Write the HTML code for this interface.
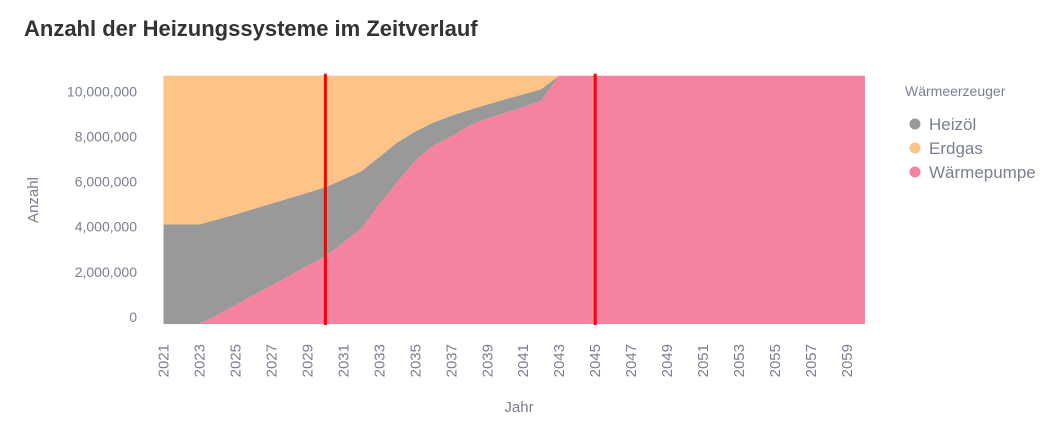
<!DOCTYPE html>
<html><head><meta charset="utf-8"><style>
body{margin:0;background:#fff;width:1064px;height:425px;overflow:hidden;font-family:"Liberation Sans",sans-serif}
</style></head><body>
<svg width="1064" height="425" xmlns="http://www.w3.org/2000/svg">
<text x="24" y="36" font-size="22" font-weight="bold" fill="#333">Anzahl der Heizungssysteme im Zeitverlauf</text>
<g id="grid"></g><g id="areas"></g><g id="axes"></g>
<text x="519" y="412" font-size="15" fill="#7a7f8f" text-anchor="middle">Jahr</text>
<text transform="translate(38,200) rotate(-90)" font-size="15" fill="#7a7f8f" text-anchor="middle">Anzahl</text>
<g>
<text x="905" y="96" font-size="14" fill="#7a7f8f">Wärmeerzeuger</text>
<circle cx="915" cy="124" r="5.5" fill="#999"/>
<text x="929" y="130" font-size="17" fill="#7a7f8f">Heizöl</text>
<circle cx="915" cy="148" r="5.5" fill="#fec487"/>
<text x="929" y="154" font-size="17" fill="#7a7f8f">Erdgas</text>
<circle cx="915" cy="172" r="5.5" fill="#f5839f"/>
<text x="929" y="178" font-size="17" fill="#7a7f8f">Wärmepumpe</text>
</g>
</svg>
<script>
const years=[2021,2022,2023,2024,2025,2026,2027,2028,2029,2030,2031,2032,2033,2034,2035,2036,2037,2038,2039,2040,2041,2042,2043,2060];
const pumpe=[0,0,0,0.4,0.84,1.27,1.7,2.13,2.57,3.0,3.6,4.22,5.3,6.28,7.23,7.9,8.3,8.78,9.1,9.35,9.6,9.88,11,11];
const oelTop=[4.41,4.41,4.41,4.63,4.85,5.09,5.33,5.57,5.81,6.06,6.4,6.76,7.4,8.04,8.53,8.92,9.22,9.48,9.72,9.95,10.17,10.4,11,11];
const total=[11,11,11,11,11,11,11,11,11,11,11,11,11,11,11,11,11,11,11,11,11,11,11,11];
const yTicks=[0,2,4,6,8,10];
const yTickLabels=["0","2,000,000","4,000,000","6,000,000","8,000,000","10,000,000"];
const redYears=[2030,2045];
const NS="http://www.w3.org/2000/svg";
const X0=163.5,X1=865,Y0=324,YT=75.7,yMax=11;
const x=v=>X0+(v-2021)/(2060-2021)*(X1-X0);
const y=v=>Y0-v/yMax*(Y0-YT);
function mk(t,a,p){const e=document.createElementNS(NS,t);for(const k in a)e.setAttribute(k,a[k]);p.appendChild(e);return e;}
const grid=document.getElementById('grid'),areas=document.getElementById('areas'),axes=document.getElementById('axes');
yTicks.forEach((v,i)=>{
 const l=mk('line',{x1:X0,x2:X1,y1:y(v),y2:y(v),stroke:'#eceef3'},grid);
 
 
 const t=mk('text',{x:137,y:y(v)-2,'font-size':14,fill:'#7a7f8f','text-anchor':'end'},axes);
 t.textContent=yTickLabels[i];
 
 
});
function band(lo,hi,fill,name){
 let d='M'+years.map((yr,i)=>x(yr)+','+y(hi[i])).join('L');
 for(let i=years.length-1;i>=0;i--)d+='L'+x(years[i])+','+y(lo[i]);
 const p=mk('path',{d:d+'Z',fill:fill},areas);
 
 
}
const zero=years.map(()=>0);
band(oelTop,total,'#fec487','area-erdgas');
band(pumpe,oelTop,'#999999','area-heizoel');
band(zero,pumpe,'#f5839f','area-waermepumpe');
redYears.forEach(r=>{
 const l=mk('line',{x1:x(r),x2:x(r),y1:YT-2,y2:Y0+1,stroke:'#ff0000','stroke-width':3},areas);
 
 
});
for(let yr=2021;yr<=2059;yr+=2){
 const t=mk('text',{transform:`translate(${x(yr)+5},344) rotate(-90)`,'font-size':15,fill:'#7a7f8f','text-anchor':'end'},axes);
 t.textContent=yr;
 
 
}
</script>
</body></html>
